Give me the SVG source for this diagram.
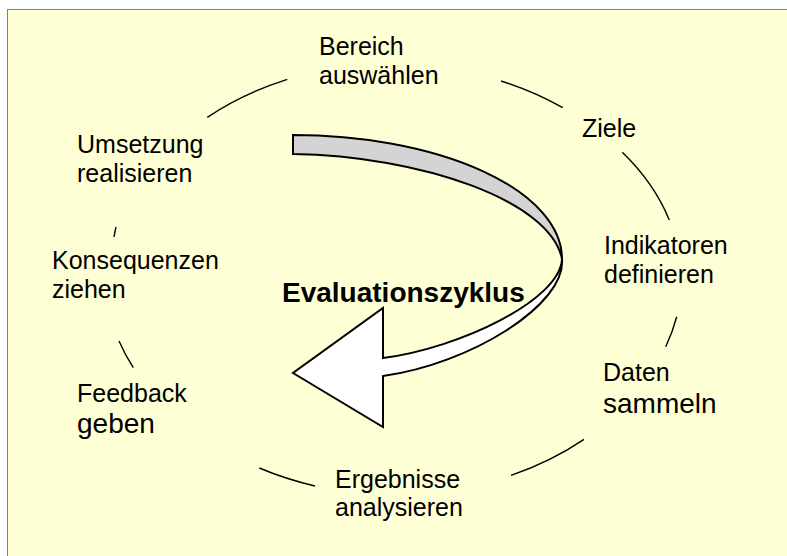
<svg xmlns="http://www.w3.org/2000/svg" width="787" height="556" viewBox="0 0 787 556">
  <style>
    .lbl { font-family: "Liberation Sans", Arial, sans-serif; font-size: 25px; fill: #000; }
    .big { font-size: 28px; }
    .title { font-family: "Liberation Sans", Arial, sans-serif; font-size: 28px; font-weight: bold; fill: #000; }
    .arc { fill: none; stroke: #000; stroke-width: 1.4; }
    .ribbon { stroke: #000; stroke-width: 2; stroke-linejoin: miter; }
  </style>
  <rect x="0" y="0" width="787" height="556" fill="#ffffff"/>
  <rect id="background" x="7.5" y="9.5" width="800" height="570" fill="#ffffd5" stroke="#7f7f7f" stroke-width="1"/>

  <g id="connectors">
    <path class="arc" d="M207.3,117.3 A288,213 0 0 1 287.3,79.3"/>
    <path class="arc" d="M501,81 A288,213 0 0 1 562.7,107.7"/>
    <path class="arc" d="M622.3,152.3 A288,213 0 0 1 669.3,220"/>
    <path class="arc" d="M676.7,316.7 A288,213 0 0 1 665.7,346.7"/>
    <path class="arc" d="M584,439.3 A288,213 0 0 1 511,475.3"/>
    <path class="arc" d="M315,486 A288,213 0 0 1 259.3,468"/>
    <path class="arc" d="M133.3,367.7 A288,213 0 0 1 119,341"/>
    <path class="arc" d="M114,237 A288,213 0 0 1 116,227"/>
  </g>

  <g id="cycle-arrow">
    <path class="ribbon" fill="#d4d4d4" d="M293,135 A269,124 0 0 1 562,259 C550,200 420,156 293,154 Z"/>
    <path class="ribbon" fill="#ffffff" d="M562,259 C566,305 470,364 383,376 L383,427 L293,373 L383,308 L383,358 C460,348 560,300 562,259 Z"/>
  </g>

  <g id="node-bereich">
    <text class="lbl" x="319" y="55">Bereich</text>
    <text class="lbl" x="319" y="84">auswählen</text>
  </g>
  <g id="node-ziele">
    <text class="lbl" x="582" y="137">Ziele</text>
  </g>
  <g id="node-indikatoren">
    <text class="lbl" x="604" y="254">Indikatoren</text>
    <text class="lbl" x="604" y="283">definieren</text>
  </g>
  <g id="node-daten">
    <text class="lbl" x="603" y="381">Daten</text>
    <text class="lbl big" x="603" y="413">sammeln</text>
  </g>
  <g id="node-ergebnisse">
    <text class="lbl" x="335" y="488">Ergebnisse</text>
    <text class="lbl" x="335" y="516">analysieren</text>
  </g>
  <g id="node-feedback">
    <text class="lbl" x="77" y="402">Feedback</text>
    <text class="lbl big" x="77" y="433">geben</text>
  </g>
  <g id="node-konsequenzen">
    <text class="lbl" x="52" y="269">Konsequenzen</text>
    <text class="lbl" x="52" y="298">ziehen</text>
  </g>
  <g id="node-umsetzung">
    <text class="lbl" x="77" y="152.5">Umsetzung</text>
    <text class="lbl" x="77" y="181.5">realisieren</text>
  </g>
  <g id="node-title">
    <text class="title" x="282" y="302">Evaluationszyklus</text>
  </g>
</svg>
